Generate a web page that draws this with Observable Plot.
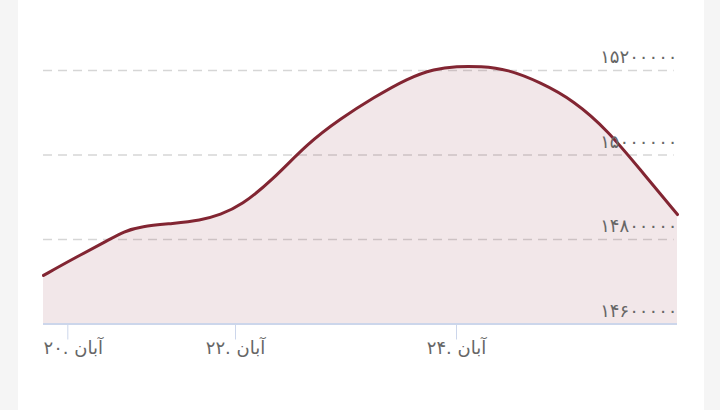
<!DOCTYPE html>
<html><head><meta charset="utf-8">
<script src="https://cdn.jsdelivr.net/npm/d3@7"></script>
<script src="https://cdn.jsdelivr.net/npm/@observablehq/plot@0.6"></script>
<style>
html,body{margin:0;padding:0;background:#f5f5f5;width:720px;height:410px;overflow:hidden}
#card{position:absolute;left:18px;top:0;width:686px;height:410px;background:#fff}
#chart{position:absolute;left:0;top:0}
</style></head><body><div id="card"></div><div id="chart"></div>
<script>
// Day of Aban (fractional) and price values
const days = [19.71, 20.07, 20.48, 20.67, 20.87, 21.26, 21.58, 21.82, 22.05, 22.34, 22.65, 22.95, 23.25, 23.56, 23.8, 24.0, 24.22, 24.46, 24.76, 25.06, 25.37, 25.67, 26.0];
const prices = [14715000, 14755000, 14798000, 14819000, 14831000, 14838000, 14845000, 14859000, 14880000, 14942000, 15027000, 15086000, 15136000, 15182000, 15204000, 15210000, 15210000, 15203000, 15172000, 15129000, 15058000, 14963000, 14859000];
const yTicks = [14600000, 14800000, 15000000, 15200000];
const xTickValues = [20, 22, 24];
const xLabels = ["۲۰. آبان", "۲۲. آبان", "۲۴. آبان"];

const toFa = s => String(s).replace(/\d/g, d => "۰۱۲۳۴۵۶۷۸۹"[d]);
const data = days.map((d, i) => ({day: d, price: prices[i]}));
const red = "#822532";

const chart = Plot.plot({
  width: 720, height: 410,
  marginLeft: 43, marginRight: 43, marginTop: 70, marginBottom: 86.5,
  style: {background: "transparent", fontFamily: "'DejaVu Sans', sans-serif"},
  x: {type: "linear", domain: [19.71, 22, 26], range: [43, 235, 677]},
  y: {domain: [14600000, 15200000], axis: null},
  marks: [
    Plot.ruleY(yTicks.slice(1), {x1: 19.71, x2: 25.97, stroke: "#d6d6d6", strokeDasharray: "9,6", strokeWidth: 1.3}),
    Plot.areaY(data, {x: "day", y1: 14600000, y2: "price", curve: "basis", fill: "#8a2433", fillOpacity: 0.11}),
    Plot.lineY(data, {x: "day", y: "price", curve: "basis", stroke: red, strokeWidth: 3}),
    Plot.ruleY([yTicks[0]], {stroke: "#ccd6eb", strokeWidth: 2}),
    Plot.axisX({ticks: xTickValues, tickSize: 16, stroke: "#ccd6eb", tickFormat: () => "", label: null}),
    Plot.text(yTicks, {y: d => d, text: d => toFa(d), frameAnchor: "right", textAnchor: "end", dy: -13, fill: "#666", fontSize: 18}),
    Plot.text(xLabels.slice(0, 1), {text: d => d, frameAnchor: "bottom-left", textAnchor: "start", dy: 30, fill: "#666", fontSize: 18}),
    Plot.text(xTickValues.slice(1), {x: d => d, text: (d, i) => xLabels[i + 1], frameAnchor: "bottom", dy: 30, fill: "#666", fontSize: 18})
  ]
});
document.getElementById("chart").append(chart);
</script></body></html>
